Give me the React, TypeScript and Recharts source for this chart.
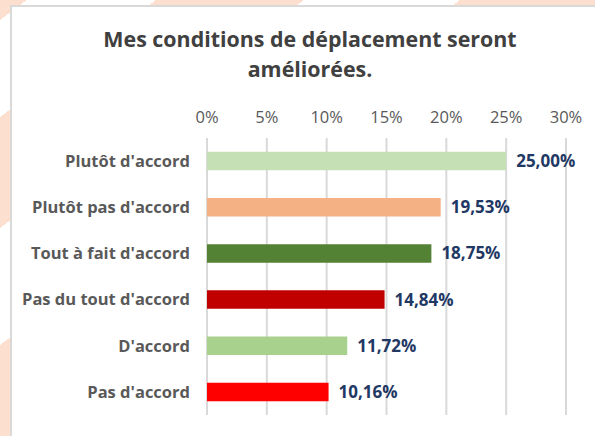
import React from "react";
import { BarChart, Bar, XAxis, YAxis, CartesianGrid, Cell, LabelList } from "recharts";

const CATEGORIES = [
  "Plutôt d'accord",
  "Plutôt pas d'accord",
  "Tout à fait d'accord",
  "Pas du tout d'accord",
  "D'accord",
  "Pas d'accord",
];

const VALUES = [0.25, 0.1953, 0.1875, 0.1484, 0.1172, 0.1016];

const BAR_COLORS = [
  "#C5E0B4", // Plutôt d'accord
  "#F4B183", // Plutôt pas d'accord
  "#548235", // Tout à fait d'accord
  "#C00000", // Pas du tout d'accord
  "#A9D18E", // D'accord
  "#FF0000", // Pas d'accord
];

const TICKS = [0, 0.05, 0.1, 0.15, 0.2, 0.25, 0.3];

const FONT = "'Open Sans', 'Noto Sans', sans-serif";
const PEACH = "#fddfd0";

const data = CATEGORIES.map((category, i) => ({ category, value: VALUES[i] }));

const pct = (v: number) => `${Math.round(v * 100)}%`;
const pctLabel = (v: any) => `${(Number(v) * 100).toFixed(2).replace(".", ",")}%`;

export default function App() {
  return (
    <div
      style={{
        position: "fixed",
        left: 0,
        top: 0,
        width: 595,
        height: 436,
        overflow: "hidden",
        background: `linear-gradient(143.13deg, ${PEACH} 0px, ${PEACH} 16px, transparent 16px), repeating-linear-gradient(143.13deg, #ffffff 0px, #ffffff 93.6px, ${PEACH} 93.6px, ${PEACH} 182.4px)`,
        fontFamily: FONT,
      }}
    >
      <div
        style={{
          position: "absolute",
          left: 10,
          top: 5,
          width: 600,
          height: 440,
          background: "#ffffff",
          border: "2px solid #d9d9d9",
        }}
      />
      <div
        style={{
          position: "absolute",
          left: 0,
          top: 24,
          width: 620,
          textAlign: "center",
          fontSize: 21.4,
          fontWeight: 700,
          color: "#404040",
          lineHeight: "30px",
        }}
      >
        Mes conditions de déplacement seront
        <br />
        améliorées.
      </div>
      <div style={{ position: "absolute", left: 0, top: 0 }}>
        <BarChart
          width={595}
          height={436}
          data={data}
          layout="vertical"
          margin={{ top: 108, right: 29, bottom: 21, left: 0 }}
          barCategoryGap="70%"
        >
          <CartesianGrid horizontal={false} stroke="#d9d9d9" strokeWidth={2} />
          <XAxis
            type="number"
            orientation="top"
            domain={[0, 0.3]}
            ticks={TICKS}
            tickFormatter={pct}
            axisLine={false}
            tickLine={false}
            tickSize={0}
            tickMargin={15}
            height={30}
            tick={{ fill: "#595959", fontSize: 16.5, fontFamily: FONT }}
          />
          <YAxis
            type="category"
            dataKey="category"
            width={207}
            axisLine={false}
            tickLine={false}
            tickSize={0}
            tickMargin={17}
            tick={{ fill: "#595959", fontSize: 16.5, fontWeight: 700, fontFamily: FONT }}
          />
          <Bar dataKey="value" isAnimationActive={false}>
            {data.map((d, i) => (
              <Cell key={d.category} fill={BAR_COLORS[i]} />
            ))}
            <LabelList
              dataKey="value"
              position="right"
              offset={10}
              formatter={pctLabel}
              style={{ fill: "#1F3864", fontSize: 17, fontWeight: 700, fontFamily: FONT }}
            />
          </Bar>
        </BarChart>
      </div>
    </div>
  );
}
